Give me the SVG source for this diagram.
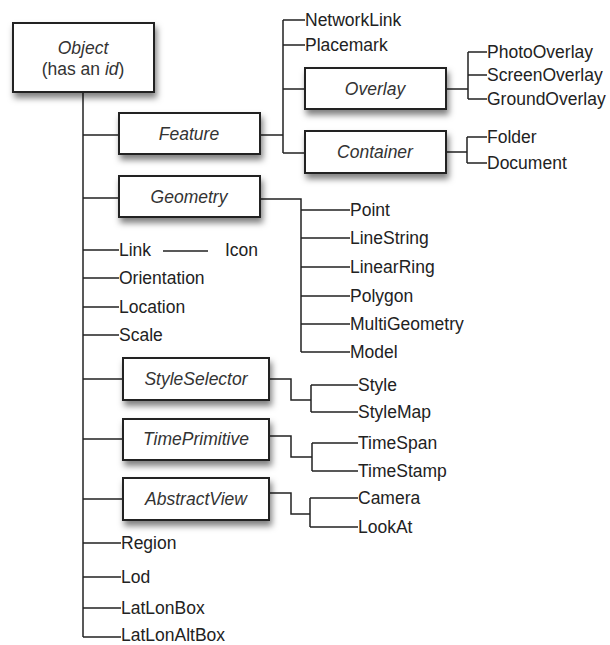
<svg xmlns="http://www.w3.org/2000/svg" width="610" height="645" viewBox="0 0 610 645">
<defs>
<filter id="sh" x="-20%" y="-30%" width="140%" height="180%">
<feDropShadow dx="2" dy="5" stdDeviation="3" flood-color="#000" flood-opacity="0.5"/>
</filter>
<style>
.box{fill:#fff;stroke:#222;stroke-width:2;filter:url(#sh)}
.bt{font-family:"Liberation Sans",Arial,sans-serif;font-size:17.5px;font-style:italic;fill:#333;text-anchor:middle}
.lt{font-family:"Liberation Sans",Arial,sans-serif;font-size:17.5px;fill:#222}
.c{fill:none;stroke:#222;stroke-width:1.5}
</style>
</defs>
<rect width="610" height="645" fill="#fff"/>
<g id="connectors">
<path class="c" d="M83 92V637"/>
<path class="c" d="M83 135H119M83 198H119M83 250H119M83 278H119M83 307H119M83 335H119M83 379H123M83 439H123M83 499H123M83 543H121M83 577H121M83 608H121M83 637H121"/>
<path class="c" d="M163 251H208"/>
<path class="c" d="M260 135H283M283 20V153M283 20H305M283 45H305M283 89H305M283 153H305"/>
<path class="c" d="M446 89H468M468 52V99M468 52H487M468 75H487M468 99H487"/>
<path class="c" d="M446 152H467M467 137V163M467 137H487M467 163H487"/>
<path class="c" d="M260 199H301V352M301 210H350M301 238H350M301 267H350M301 296H350M301 324H350M301 352H350"/>
<path class="c" d="M269 379H291V400H311M311 385V412M311 385H358M311 412H358"/>
<path class="c" d="M269 436H291V457H312M312 443V471M312 443H358M312 471H358"/>
<path class="c" d="M269 493H291V514H310M310 498V527M310 498H358M310 527H358"/>
</g>
<g id="object"><rect class="box" x="13" y="23" width="141" height="69"/>
<text class="bt" x="83" y="54">Object</text>
<text class="bt" x="83" y="75" style="font-style:normal">(has an <tspan style="font-style:italic">id</tspan>)</text></g>
<g id="feature"><rect class="box" x="119" y="113" width="141" height="41"/><text class="bt" x="189" y="140">Feature</text></g>
<g id="geometry"><rect class="box" x="119" y="176" width="141" height="41"/><text class="bt" x="189" y="203">Geometry</text></g>
<g id="overlay"><rect class="box" x="305" y="68" width="141" height="41"/><text class="bt" x="375" y="95">Overlay</text></g>
<g id="container"><rect class="box" x="305" y="131" width="141" height="42"/><text class="bt" x="375" y="158">Container</text></g>
<g id="styleselector"><rect class="box" x="123" y="358" width="146" height="42"/><text class="bt" x="196" y="385">StyleSelector</text></g>
<g id="timeprimitive"><rect class="box" x="123" y="419" width="146" height="41"/><text class="bt" x="196" y="445">TimePrimitive</text></g>
<g id="abstractview"><rect class="box" x="123" y="478" width="146" height="42"/><text class="bt" x="196" y="505">AbstractView</text></g>
<g id="networklink"><text class="lt" x="305" y="26">NetworkLink</text></g>
<g id="placemark"><text class="lt" x="305" y="51">Placemark</text></g>
<g id="photooverlay"><text class="lt" x="487" y="58">PhotoOverlay</text></g>
<g id="screenoverlay"><text class="lt" x="487" y="81">ScreenOverlay</text></g>
<g id="groundoverlay"><text class="lt" x="487" y="105">GroundOverlay</text></g>
<g id="folder"><text class="lt" x="487" y="143">Folder</text></g>
<g id="document"><text class="lt" x="487" y="169">Document</text></g>
<g id="point"><text class="lt" x="350" y="216">Point</text></g>
<g id="linestring"><text class="lt" x="350" y="244">LineString</text></g>
<g id="linearring"><text class="lt" x="350" y="273">LinearRing</text></g>
<g id="polygon"><text class="lt" x="350" y="302">Polygon</text></g>
<g id="multigeometry"><text class="lt" x="350" y="330">MultiGeometry</text></g>
<g id="model"><text class="lt" x="350" y="358">Model</text></g>
<g id="link"><text class="lt" x="119" y="256">Link</text></g>
<g id="icon"><text class="lt" x="225" y="256">Icon</text></g>
<g id="orientation"><text class="lt" x="119" y="284">Orientation</text></g>
<g id="location"><text class="lt" x="119" y="313">Location</text></g>
<g id="scale"><text class="lt" x="119" y="341">Scale</text></g>
<g id="style"><text class="lt" x="358" y="391">Style</text></g>
<g id="stylemap"><text class="lt" x="358" y="418">StyleMap</text></g>
<g id="timespan"><text class="lt" x="358" y="449">TimeSpan</text></g>
<g id="timestamp"><text class="lt" x="358" y="477">TimeStamp</text></g>
<g id="camera"><text class="lt" x="358" y="504">Camera</text></g>
<g id="lookat"><text class="lt" x="358" y="533">LookAt</text></g>
<g id="region"><text class="lt" x="121" y="549">Region</text></g>
<g id="lod"><text class="lt" x="121" y="583">Lod</text></g>
<g id="latlonbox"><text class="lt" x="121" y="614">LatLonBox</text></g>
<g id="latlonaltbox"><text class="lt" x="121" y="641">LatLonAltBox</text></g>
</svg>
